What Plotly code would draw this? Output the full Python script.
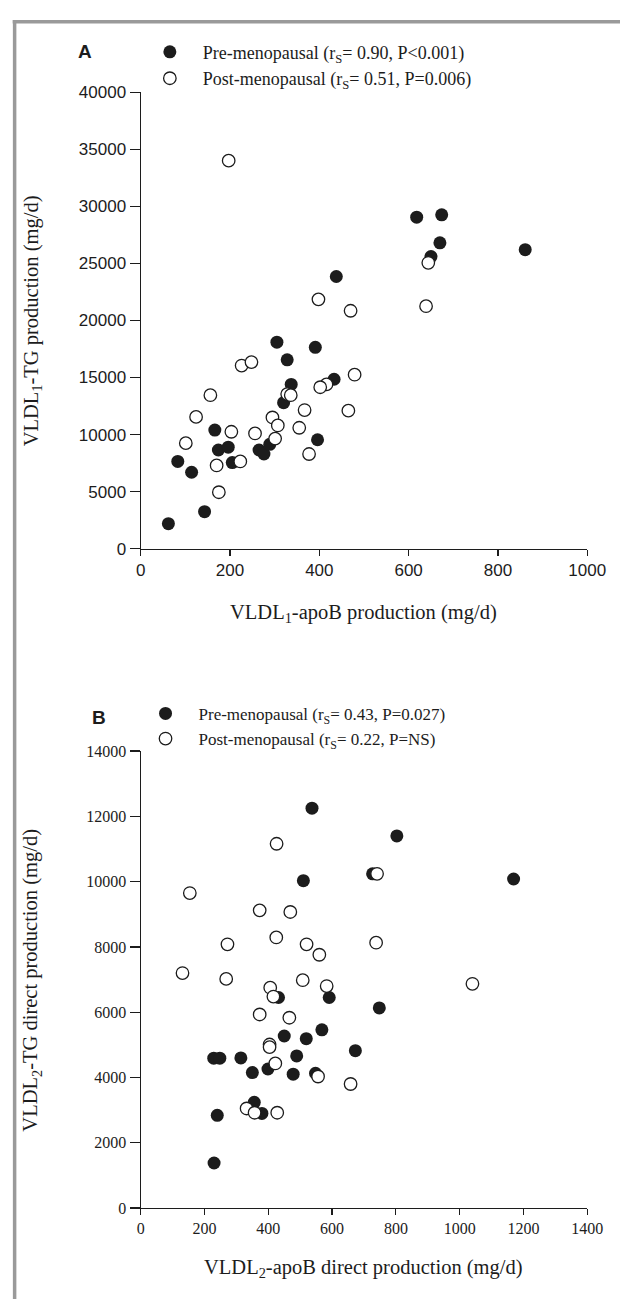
import plotly.graph_objects as go

W, H = 639, 1309

# ---- Panel A data: VLDL1-apoB production (mg/d) vs VLDL1-TG production (mg/d)
a_pre_x = [62, 143, 83, 114, 166, 174, 196, 205, 265, 276, 289, 305, 320, 328, 337,
           391, 396, 433, 438, 618, 674, 670, 650, 861]
a_pre_y = [2200, 3250, 7650, 6700, 10400, 8650, 8900, 7550, 8650, 8300, 9150, 18100,
           12800, 16550, 14400, 17650, 9550, 14850, 23850, 29050, 29250, 26800, 25600, 26200]
a_post_x = [197, 398, 470, 226, 248, 479, 416, 402, 156, 328, 336, 644, 639, 175, 101,
            124, 170, 223, 203, 256, 301, 295, 307, 355, 367, 377, 465]
a_post_y = [34000, 21850, 20850, 16050, 16350, 15250, 14400, 14150, 13450, 13550, 13450,
            25050, 21250, 4950, 9250, 11550, 7300, 7650, 10250, 10100, 9650, 11500, 10800,
            10600, 12150, 8300, 12100]

# ---- Panel B data: VLDL2-apoB direct production vs VLDL2-TG direct production
b_pre_x = [537, 510, 803, 727, 1169, 432, 591, 748, 568, 450, 519, 489, 673, 229, 248,
           314, 350, 399, 478, 548, 356, 380, 240, 230]
b_pre_y = [12250, 10030, 11400, 10240, 10080, 6450, 6450, 6130, 5460, 5270, 5190, 4660,
           4820, 4590, 4590, 4600, 4150, 4260, 4100, 4130, 3240, 2900, 2840, 1380]
b_post_x = [426, 741, 154, 373, 469, 272, 425, 520, 560, 738, 131, 268, 508, 583, 406,
            416, 1040, 373, 466, 404, 404, 422, 556, 658, 332, 357, 428]
b_post_y = [11160, 10240, 9650, 9120, 9070, 8080, 8290, 8080, 7760, 8130, 7200, 7020,
            6980, 6800, 6750, 6480, 6870, 5930, 5830, 5010, 4930, 4430, 4030, 3800, 3050,
            2920, 2920]

a_labels = ["Pre-menopausal (r<sub>S</sub>= 0.90, P<0.001)",
            "Post-menopausal (r<sub>S</sub>= 0.51, P=0.006)"]
b_labels = ["Pre-menopausal (r<sub>S</sub>= 0.43, P=0.027)",
            "Post-menopausal (r<sub>S</sub>= 0.22, P=NS)"]

INK = "#1c1c1c"
SERIF = "Liberation Serif, Times New Roman, serif"
SANS = "Liberation Sans, Arial, sans-serif"

filled = dict(symbol="circle", size=13, color=INK, line=dict(width=0))
hollow = dict(symbol="circle", size=12.5, color="white", line=dict(width=1.3, color=INK))

fig = go.Figure()
fig.add_trace(go.Scatter(x=a_pre_x, y=a_pre_y, mode="markers", marker=filled,
                         name=a_labels[0], legend="legend", legendgroup="a1",
                         xaxis="x", yaxis="y"))
fig.add_trace(go.Scatter(x=a_post_x, y=a_post_y, mode="markers", marker=hollow,
                         name=a_labels[1], legend="legend", legendgroup="a2",
                         xaxis="x", yaxis="y"))
fig.add_trace(go.Scatter(x=b_pre_x, y=b_pre_y, mode="markers", marker=filled,
                         name=b_labels[0], legend="legend2", legendgroup="b1",
                         xaxis="x2", yaxis="y2"))
fig.add_trace(go.Scatter(x=b_post_x, y=b_post_y, mode="markers", marker=hollow,
                         name=b_labels[1], legend="legend2", legendgroup="b2",
                         xaxis="x2", yaxis="y2"))

def px_x(p):
    return p / W

def px_y(p):
    return 1 - p / H

axis_common = dict(showline=True, linecolor=INK, linewidth=1.2, ticks="outside",
                   tickcolor=INK, tickwidth=1.2, showgrid=False, zeroline=False,
                   tickformat="d", fixedrange=True)

xdom = [px_x(141), px_x(605)]
fig.update_layout(
    width=W, height=H,
    margin=dict(l=0, r=0, t=0, b=0),
    paper_bgcolor="white", plot_bgcolor="white",
    showlegend=True, hovermode=False,
    xaxis=dict(domain=xdom, range=[0, 1000], dtick=200, ticklen=6,
               tickfont=dict(family=SANS, size=17, color=INK), anchor="y", **axis_common),
    yaxis=dict(domain=[px_y(547.7), px_y(84.4)], range=[0, 40000], dtick=5000, ticklen=10,
               tickfont=dict(family=SANS, size=17, color=INK), anchor="x", **axis_common),
    xaxis2=dict(domain=xdom, range=[0, 1400], dtick=200, ticklen=6,
                tickfont=dict(family=SERIF, size=16, color=INK), anchor="y2", **axis_common),
    yaxis2=dict(domain=[px_y(1216.7), px_y(753)], range=[0, 14000], dtick=2000, ticklen=10,
                tickfont=dict(family=SERIF, size=16, color=INK), anchor="x2", **axis_common),
    legend=dict(x=px_x(137), y=px_y(25), xanchor="left", yanchor="top",
                bgcolor="rgba(0,0,0,0)", borderwidth=0, itemwidth=56,
                tracegroupgap=0, traceorder="grouped",
                font=dict(family=SERIF, size=18, color=INK)),
    legend2=dict(x=px_x(132.5), y=px_y(697), xanchor="left", yanchor="top",
                 bgcolor="rgba(0,0,0,0)", borderwidth=0, itemwidth=56,
                 tracegroupgap=0, traceorder="grouped",
                 font=dict(family=SERIF, size=17, color=INK)),
)

def note(text, x, y, size, family, angle=0):
    return dict(text=text, x=px_x(x), y=px_y(y), xref="paper", yref="paper",
                xanchor="center", yanchor="middle", showarrow=False, textangle=angle,
                font=dict(family=family, size=size, color=INK))

annotations = [
    note("<b>A</b>", 83, 43, 19, SANS),
    note("<b>B</b>", 98, 719, 19, SANS),
    note("VLDL<sub>1</sub>-apoB production (mg/d)", 373, 613, 20.5, SERIF),
    note("VLDL<sub>1</sub>-TG production (mg/d)", 28, 316, 20.5, SERIF, -90),
    note("VLDL<sub>2</sub>-apoB direct production (mg/d)", 372, 1278, 20.5, SERIF),
    note("VLDL<sub>2</sub>-TG direct production (mg/d)", 28, 985, 20.5, SERIF, -90),
]
fig.update_layout(annotations=annotations)

# grey frame (top and left edges)
fig.add_shape(type="line", xref="paper", yref="paper", x0=px_x(8), x1=1,
              y0=px_y(13), y1=px_y(13), line=dict(color="#9a9a9a", width=3.5))
fig.add_shape(type="line", xref="paper", yref="paper", x0=px_x(10), x1=px_x(10),
              y0=0, y1=px_y(11.3), line=dict(color="#9a9a9a", width=3.5))

fig.write_html("out.html",
               config={"displayModeBar": False, "staticPlot": True},
               post_script="document.body.style.margin='0';"
                           "document.body.style.overflow='hidden';")
